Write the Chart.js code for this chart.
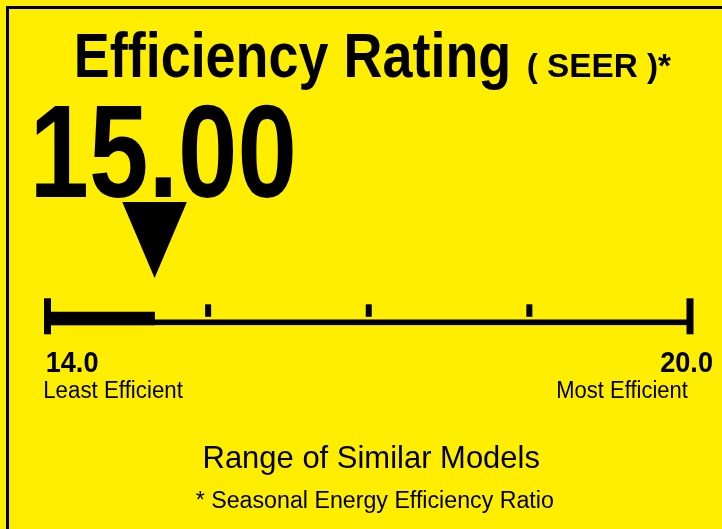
<!DOCTYPE html>
<html>
<head>
<meta charset="utf-8">
<script src="https://cdn.jsdelivr.net/npm/chart.js@4"></script>
<style>
  html, body { margin: 0; padding: 0; background: #FFEE00; overflow: hidden; }
  canvas { display: block; }
</style>
</head>
<body>
<canvas id="c" width="722" height="529"></canvas>
<script>
// ---- data ----
const rating = 15.00;
const rangeMin = 14.0;
const rangeMax = 20.0;
const minorTicks = [15.5, 17.0, 18.5];
const endLabels = ['14.0', '20.0'];
const endCaptions = ['Least Efficient', 'Most Efficient'];
const titleMain = 'Efficiency Rating';
const titleUnit = '( SEER )*';
const ratingLabel = rating.toFixed(2);
const rangeCaption = 'Range of Similar Models';
const footnote = '* Seasonal Energy Efficiency Ratio';
const categories = [''];

const YELLOW = '#FFEE00';
const BLACK = '#000000';
const FONT = '"Liberation Sans", Arial, sans-serif';

// draw text fitted into a box: left..right horizontally, cap top..baseline vertically
function fitBox(ctx, text, left, right, top, baseline, weight, capRef) {
  const size = 100;
  ctx.save();
  ctx.font = weight + ' ' + size + 'px ' + FONT;
  ctx.textBaseline = 'alphabetic';
  ctx.textAlign = 'left';
  const m = ctx.measureText(text);
  const w = m.actualBoundingBoxRight + m.actualBoundingBoxLeft;
  const cap = ctx.measureText(capRef || 'H').actualBoundingBoxAscent;
  const sx = (right - left) / w;
  const sy = (baseline - top) / cap;
  ctx.translate(left + m.actualBoundingBoxLeft * sx, baseline);
  ctx.scale(sx, sy);
  ctx.fillStyle = BLACK;
  ctx.fillText(text, 0, 0);
  ctx.restore();
}

const labelPlugin = {
  id: 'label',
  beforeDraw(chart) {
    const ctx = chart.ctx;
    ctx.save();
    ctx.fillStyle = YELLOW;
    ctx.fillRect(0, 0, chart.width, chart.height);
    ctx.fillStyle = BLACK;
    ctx.fillRect(6, 6, 3, 600);
    ctx.fillRect(6, 6, 900, 3);
    ctx.restore();
  },
  afterDatasetsDraw(chart) {
    const ctx = chart.ctx;
    const xs = chart.scales.x;
    const ys = chart.scales.y;
    const yc = ys.getPixelForValue(0);
    const lineY = yc + 3.8;            // axis line centre
    const x0 = xs.getPixelForValue(rangeMin);
    const x1 = xs.getPixelForValue(rangeMax);
    ctx.save();
    ctx.fillStyle = BLACK;
    // main axis line
    ctx.fillRect(x0, lineY - 2.8, x1 - x0, 5.6);
    // end bars
    [rangeMin, rangeMax].forEach(v => {
      const px = xs.getPixelForValue(v);
      ctx.fillRect(px - 3.5, lineY - 24, 7, 36);
    });
    // minor ticks
    minorTicks.forEach(v => {
      const px = xs.getPixelForValue(v);
      ctx.fillRect(px - 3, lineY - 18, 6, 12.5);
    });
    // pointer triangle
    const px = xs.getPixelForValue(rating);
    ctx.beginPath();
    ctx.moveTo(px - 32.3, 202);
    ctx.lineTo(px + 32.3, 202);
    ctx.lineTo(px, 278);
    ctx.closePath();
    ctx.fill();
    ctx.restore();

    // texts
    fitBox(ctx, titleMain, 77, 508, 32.7, 76.7, 'bold');
    fitBox(ctx, titleUnit, 528, 671, 54, 77, 'bold');
    fitBox(ctx, ratingLabel, 36, 293, 105, 196.5, 'bold', '5');
    fitBox(ctx, endLabels[0], 47.3, 97.5, 350.7, 371.5, 'bold', '4');
    fitBox(ctx, endCaptions[0], 45, 183, 380.5, 397.5, 'normal');
    fitBox(ctx, endLabels[1], 661, 712, 350.5, 371.5, 'bold', '2');
    fitBox(ctx, endCaptions[1], 558, 688, 380.5, 397.5, 'normal');
    fitBox(ctx, rangeCaption, 205, 539, 446.7, 468.3, 'normal');
    fitBox(ctx, footnote, 196, 553, 491.7, 508.3, 'normal');
  }
};

new Chart(document.getElementById('c'), {
  type: 'bar',
  data: {
    labels: categories,
    datasets: [{
      data: [[rangeMin, rating]],
      backgroundColor: BLACK,
      borderWidth: 0,
      barThickness: 13,
      borderSkipped: false
    }]
  },
  options: {
    indexAxis: 'y',
    responsive: false,
    animation: false,
    events: [],
    layout: { padding: { left: 47.5, right: 32, top: 300, bottom: 192 } },
    scales: {
      x: { type: 'linear', min: rangeMin, max: rangeMax, display: false },
      y: { display: false }
    },
    plugins: {
      legend: { display: false },
      tooltip: { enabled: false },
      title: { display: false }
    }
  },
  plugins: [labelPlugin]
});
</script>
</body>
</html>
